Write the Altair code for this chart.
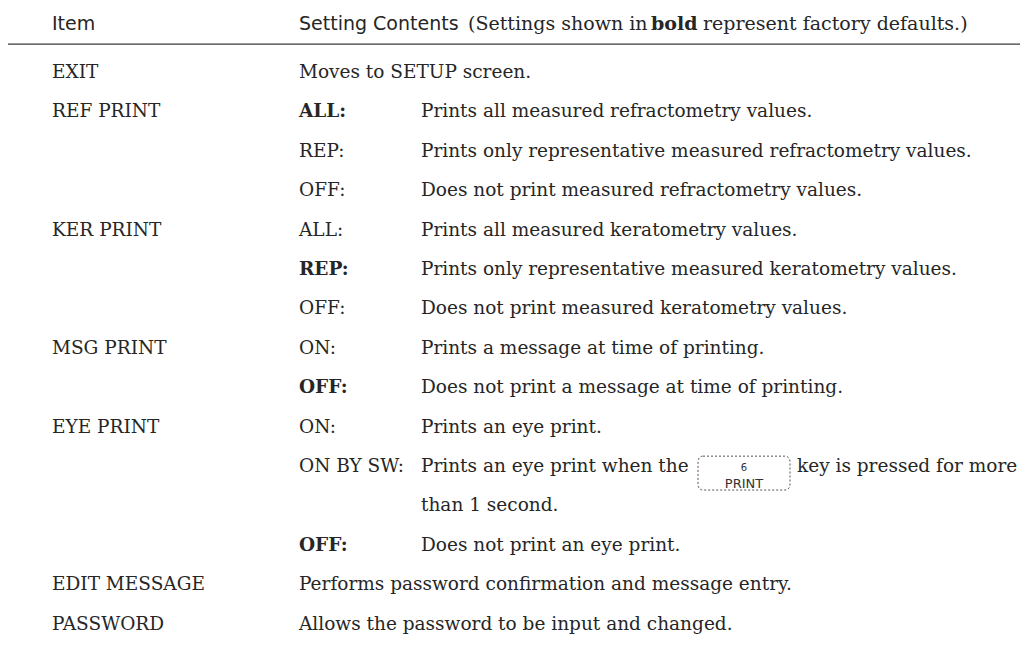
import altair as alt
import pandas as pd

# ---------------- data (table contents) ----------------
ITEM_ROWS = [1, 2, 5, 8, 10, 14, 15]
ITEM_LABELS = ["EXIT", "REF PRINT", "KER PRINT", "MSG PRINT", "EYE PRINT",
               "EDIT MESSAGE", "PASSWORD"]

KEY_ROWS = [2, 3, 4, 5, 6, 7, 8, 9, 10, 11, 13]
KEY_LABELS = ["ALL:", "REP:", "OFF:", "ALL:", "REP:", "OFF:", "ON:", "OFF:",
              "ON:", "ON BY SW:", "OFF:"]
KEY_DEFAULT = [True, False, False, False, True, False, False, True, False,
               False, True]

DESC_ROWS = [1, 2, 3, 4, 5, 6, 7, 8, 9, 10, 11, 11, 12, 13, 14, 15]
DESC_COLS = ["key", "desc", "desc", "desc", "desc", "desc", "desc", "desc",
             "desc", "desc", "desc", "after", "desc", "desc", "key", "key"]
DESC_TEXTS = [
    "Moves to SETUP screen.",
    "Prints all measured refractometry values.",
    "Prints only representative measured refractometry values.",
    "Does not print measured refractometry values.",
    "Prints all measured keratometry values.",
    "Prints only representative measured keratometry values.",
    "Does not print measured keratometry values.",
    "Prints a message at time of printing.",
    "Does not print a message at time of printing.",
    "Prints an eye print.",
    "Prints an eye print when the",
    "key is pressed for more",
    "than 1 second.",
    "Does not print an eye print.",
    "Performs password confirmation and message entry.",
    "Allows the password to be input and changed.",
]

HEADER_ITEM = "Item"
HEADER_SETTING = "Setting Contents"
HEADER_NOTE = ["(Settings shown in", "bold", "represent factory defaults.)"]
HEADER_NOTE_BOLD = [False, True, False]

KEY_CAP = "PRINT"
KEY_ICON = "6"
KEY_ROW = 11

# ---------------- layout ----------------
W, H = 1012, 643
COL_X = {"item": 52, "key": 299, "desc": 421, "after": 797}
NOTE_X = [468, 651, 703]
ROW1_PX, ROW_STEP = 72, 39.4
HEADER_ROW = 0.0
HEADER_DY = -9
RULE_ROW = 0.29
BOX = dict(x0=698, x1=790, r0=-0.25, r1=0.61)

SERIF = "DejaVu Serif"
SANS = "DejaVu Sans"
INK = "#262626"
FS = 18.5
FS_NOTE = 19

y_min = (8 - ROW1_PX) / ROW_STEP + 1
y_max = (8 + H - ROW1_PX) / ROW_STEP + 1
xs = alt.Scale(domain=[8, 8 + W], nice=False, zero=False)
ys = alt.Scale(domain=[y_min, y_max], reverse=True, nice=False, zero=False)

rows = []
for r, t in zip(ITEM_ROWS, ITEM_LABELS):
    rows.append(dict(x=COL_X["item"], row=r, text=t, bold=False, head=False))
for r, t, b in zip(KEY_ROWS, KEY_LABELS, KEY_DEFAULT):
    rows.append(dict(x=COL_X["key"], row=r, text=t, bold=b, head=False))
for r, c, t in zip(DESC_ROWS, DESC_COLS, DESC_TEXTS):
    rows.append(dict(x=COL_X[c], row=r, text=t, bold=False, head=False))
for xx, t, b in zip(NOTE_X, HEADER_NOTE, HEADER_NOTE_BOLD):
    rows.append(dict(x=xx, row=HEADER_ROW, text=t, bold=b, head=True))
body = pd.DataFrame(rows)

head_sans = pd.DataFrame([
    dict(x=COL_X["item"], row=HEADER_ROW, text=HEADER_ITEM),
    dict(x=COL_X["key"], row=HEADER_ROW, text=HEADER_SETTING),
])

base_enc = dict(
    x=alt.X("x:Q", scale=xs, axis=None),
    y=alt.Y("row:Q", scale=ys, axis=None),
    text="text:N",
)

def serif_layer(bold, head):
    return alt.Chart(body).transform_filter(
        (alt.datum.bold == bold) & (alt.datum.head == head)
    ).mark_text(
        align="left", baseline="middle", font=SERIF,
        fontSize=FS_NOTE if head else FS,
        fontWeight="bold" if bold else "normal", color=INK,
        dy=HEADER_DY if head else 0,
    ).encode(**base_enc)

layers = [
    serif_layer(False, False),
    serif_layer(True, False),
    serif_layer(False, True),
    serif_layer(True, True),
    alt.Chart(head_sans).mark_text(
        align="left", baseline="middle", font=SANS, fontSize=19,
        color=INK, dy=HEADER_DY,
    ).encode(**base_enc),
]

rule_df = pd.DataFrame([dict(x=8, x2=8 + W, row=RULE_ROW)])
layers.append(
    alt.Chart(rule_df).mark_rule(color="#3a3a3a", strokeWidth=1.2).encode(
        x=alt.X("x:Q", scale=xs, axis=None), x2="x2:Q",
        y=alt.Y("row:Q", scale=ys, axis=None),
    )
)

box_df = pd.DataFrame([dict(x=BOX["x0"], x2=BOX["x1"],
                            row=KEY_ROW + BOX["r0"], row2=KEY_ROW + BOX["r1"])])
layers.append(
    alt.Chart(box_df).mark_rect(
        fill="white", fillOpacity=0, stroke="#555555", strokeWidth=1,
        strokeDash=[2, 2], cornerRadius=5,
    ).encode(
        x=alt.X("x:Q", scale=xs, axis=None), x2="x2:Q",
        y=alt.Y("row:Q", scale=ys, axis=None), y2="row2:Q",
    )
)
key_txt = pd.DataFrame([
    dict(x=(BOX["x0"] + BOX["x1"]) / 2, row=KEY_ROW + 0.45, text=KEY_CAP, s=13),
    dict(x=(BOX["x0"] + BOX["x1"]) / 2, row=KEY_ROW + 0.06, text=KEY_ICON, s=10),
])
layers.append(
    alt.Chart(key_txt).mark_text(
        align="center", baseline="middle", font=SANS, color="#333333",
    ).encode(
        x=alt.X("x:Q", scale=xs, axis=None),
        y=alt.Y("row:Q", scale=ys, axis=None),
        text="text:N",
        size=alt.Size("s:Q", scale=None, legend=None),
    )
)

chart = alt.layer(*layers).properties(
    width=W, height=H, padding=0,
    autosize=alt.AutoSizeParams(type="none"),
).configure_view(stroke=None)

chart.save("out.html", embed_options={"renderer": "svg", "actions": False})
